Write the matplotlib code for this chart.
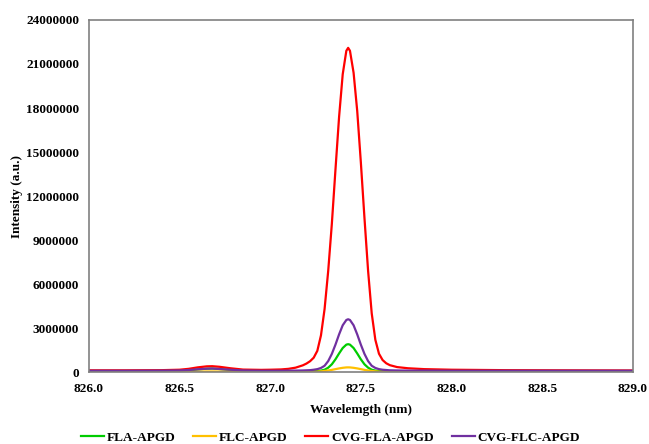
import matplotlib
matplotlib.use("Agg")
import matplotlib.pyplot as plt
import numpy as np
from matplotlib.ticker import FormatStrFormatter

# wavelength grid (nm)
wl = [826.00, 826.20, 826.40, 826.50, 826.55, 826.60, 826.65, 826.68, 826.72, 826.78,
      826.85, 826.95, 827.00, 827.06, 827.10, 827.14, 827.18, 827.20, 827.22, 827.24,
      827.26, 827.28, 827.30, 827.32, 827.34, 827.36, 827.38, 827.40, 827.42, 827.43,
      827.44, 827.46, 827.48, 827.50, 827.52, 827.54, 827.56, 827.58, 827.60, 827.62,
      827.64, 827.66, 827.70, 827.76, 827.85, 828.00, 828.30, 828.60, 829.00]

# intensities in millions (a.u.)
fla = [0.04, 0.04, 0.05, 0.07, 0.11, 0.18, 0.23, 0.24, 0.21, 0.14,
       0.08, 0.05, 0.05, 0.05, 0.05, 0.05, 0.05, 0.05, 0.05, 0.06,
       0.07, 0.10, 0.16, 0.30, 0.53, 0.87, 1.27, 1.64, 1.87, 1.90,
       1.87, 1.64, 1.27, 0.87, 0.53, 0.30, 0.16, 0.10, 0.07, 0.06,
       0.05, 0.05, 0.05, 0.05, 0.05, 0.05, 0.04, 0.04, 0.04]
flc = [0.02, 0.02, 0.02, 0.02, 0.025, 0.03, 0.04, 0.04, 0.035, 0.03,
       0.02, 0.02, 0.02, 0.02, 0.02, 0.02, 0.02, 0.02, 0.02, 0.027,
       0.035, 0.05, 0.074, 0.11, 0.15, 0.20, 0.25, 0.29, 0.317, 0.32,
       0.317, 0.29, 0.25, 0.20, 0.15, 0.11, 0.074, 0.05, 0.035, 0.027,
       0.02, 0.02, 0.02, 0.02, 0.02, 0.02, 0.02, 0.02, 0.02]
cvg_fla = [0.12, 0.12, 0.13, 0.16, 0.22, 0.32, 0.39, 0.40, 0.36, 0.26,
           0.17, 0.15, 0.16, 0.18, 0.22, 0.30, 0.46, 0.58, 0.74, 0.98,
           1.45, 2.5, 4.3, 6.9, 10.1, 13.8, 17.4, 20.3, 21.9, 22.1,
           21.9, 20.4, 17.8, 14.3, 10.5, 6.9, 4.0, 2.2, 1.25, 0.82,
           0.60, 0.47, 0.34, 0.26, 0.20, 0.16, 0.13, 0.12, 0.11]
cvg_flc = [0.09, 0.09, 0.10, 0.11, 0.14, 0.19, 0.23, 0.24, 0.21, 0.16,
           0.11, 0.09, 0.09, 0.09, 0.10, 0.10, 0.11, 0.12, 0.13, 0.16,
           0.20, 0.28, 0.43, 0.75, 1.24, 1.87, 2.57, 3.19, 3.55, 3.60,
           3.55, 3.19, 2.57, 1.87, 1.24, 0.75, 0.43, 0.28, 0.20, 0.16,
           0.14, 0.12, 0.11, 0.10, 0.10, 0.09, 0.09, 0.09, 0.09]

labels = ['FLA-APGD', 'FLC-APGD', 'CVG-FLA-APGD', 'CVG-FLC-APGD']
colors = ['#00CC00', '#FFC000', '#FF0000', '#7030A0']

plt.rcParams['font.family'] = ['Liberation Serif', 'DejaVu Serif']
plt.rcParams['font.weight'] = 'bold'

fig = plt.figure(figsize=(6.49, 4.44), dpi=100)
ax = fig.add_axes([0.137, 0.162, 0.838, 0.793])

for ys, lab, c in zip([fla, flc, cvg_fla, cvg_flc], labels, colors):
    ax.plot(wl, np.array(ys) * 1e6, color=c, lw=1.6, label=lab)

ax.set_xlim(826, 829)
ax.set_ylim(0, 24000000)
ax.set_xticks(np.arange(826, 829.01, 0.5))
ax.set_yticks(np.arange(0, 24000001, 3000000))
ax.xaxis.set_major_formatter(FormatStrFormatter('%.1f'))
ax.ticklabel_format(axis='y', style='plain', useOffset=False)
ax.tick_params(length=0, labelsize=9.5)
ax.tick_params(axis='y', pad=7)
ax.tick_params(axis='x', pad=8)
for s in ax.spines.values():
    s.set_color('#808080')
    s.set_linewidth(1.2)

ax.set_xlabel('Wavelemgth (nm)', fontsize=9.5, fontweight='bold', labelpad=6)
ax.set_ylabel('Intensity (a.u.)', fontsize=9.5, fontweight='bold', labelpad=2)

fig.legend(loc='lower center', bbox_to_anchor=(0.509, -0.026), ncol=4, frameon=False,
           fontsize=9.5, handlelength=1.75, handletextpad=0.2, columnspacing=1.35)

fig.savefig('out.png', dpi=100)
